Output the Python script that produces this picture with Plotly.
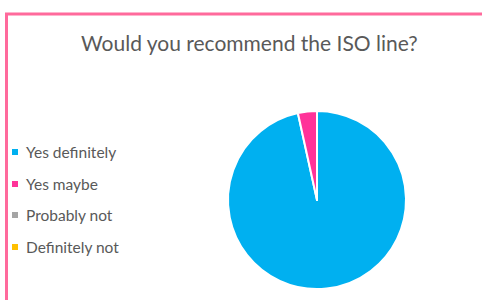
import plotly.graph_objects as go

title = "Would you recommend the ISO line?"
categories = ["Yes definitely", "Yes maybe", "Probably not", "Definitely not"]
values = [28, 1, 0, 0]
colors = ["#00B0F0", "#FF3399", "#A5A5A5", "#FFC000"]

W, H = 482, 300
def px(x):
    return x / W
def py(y):
    return 1 - y / H

fig = go.Figure(go.Pie(
    labels=categories, values=values, sort=False, direction="clockwise", rotation=0,
    marker=dict(colors=colors, line=dict(color="white", width=2)),
    textinfo="none", hoverinfo="label+percent", showlegend=False,
    domain=dict(x=[px(228), px(406)], y=[py(289), py(111)]),
))

shapes = [
    dict(type="line", xref="paper", yref="paper", x0=px(6.5), x1=px(6.5), y0=py(300), y1=py(13),
         line=dict(color="#FF6A9C", width=3)),
    dict(type="line", xref="paper", yref="paper", x0=px(5), x1=px(482), y0=py(14), y1=py(14),
         line=dict(color="#FF6A9C", width=3)),
]
annotations = [dict(text=title, xref="paper", yref="paper", x=px(249), y=py(42), showarrow=False,
                    xanchor="center", yanchor="middle", font=dict(size=21, color="#595959", family="Lato"))]

row_y = [152, 184, 215, 247]
for cat, col, yy in zip(categories, colors, row_y):
    shapes.append(dict(type="rect", xref="paper", yref="paper", x0=px(12), x1=px(18),
                       y0=py(yy + 3), y1=py(yy - 3), fillcolor=col, line=dict(width=0)))
    annotations.append(dict(text=cat, xref="paper", yref="paper", x=px(24), y=py(yy), showarrow=False,
                            xanchor="left", yanchor="middle", font=dict(size=15.5, color="#595959", family="Lato")))

fig.update_layout(width=W, height=H, margin=dict(l=0, r=0, t=0, b=0),
                  paper_bgcolor="white", plot_bgcolor="white",
                  shapes=shapes, annotations=annotations)
fig.write_html("out.html", config={"displayModeBar": False},
               post_script="document.body.style.margin='0';")
